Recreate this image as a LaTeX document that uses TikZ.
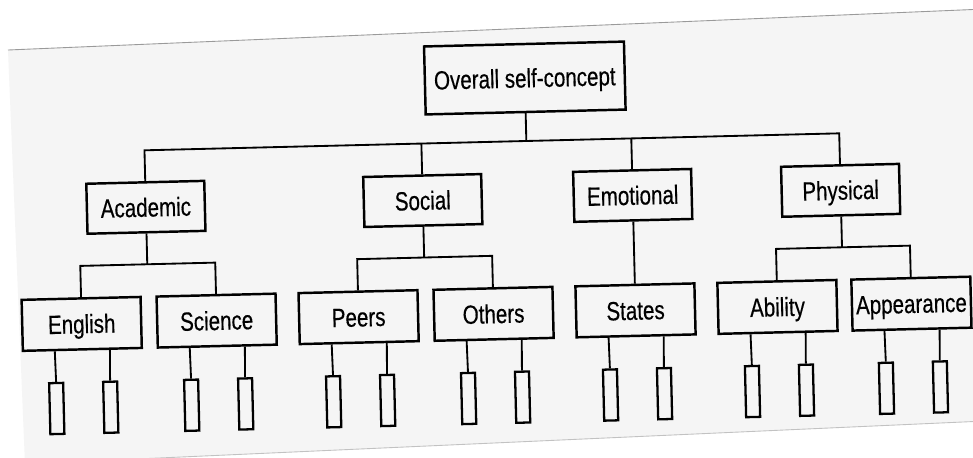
\documentclass[tikz,border=0pt]{standalone}
\usepackage{fontspec}
\setmainfont{Liberation Sans}[FakeStretch=0.78,FakeBold=0.4]
\usetikzlibrary{calc}
\definecolor{paper}{HTML}{F5F5F5}
\definecolor{paperedge}{HTML}{9A9A9A}
\begin{document}
\begin{tikzpicture}[x=0.02cm,y=-0.02cm,
  box/.style={draw, line width=1.4pt, inner sep=0pt, text height=10.7pt, text depth=0pt,
              font=\fontsize{15}{18}\selectfont, transform shape},
  rootbox/.style={box, minimum width=4.0cm, minimum height=1.36cm},
  midbox/.style={box, minimum width=2.36cm, minimum height=1.0cm},
  lowbox/.style={box, minimum width=2.38cm, minimum height=1.02cm},
  leafbox/.style={draw, line width=1.3pt, inner sep=0pt, minimum width=0.28cm,
                  minimum height=1.02cm, transform shape},
  link/.style={line width=1.05pt, line join=miter}]

% sheet of paper, slightly tilted
\useasboundingbox (0,0) rectangle (973,457);
\fill[white] (0,0) rectangle (973,457);
\fill[paper] (8,50) -- (985,9) -- (985,421) -- (25,464) -- cycle;
\draw[paperedge, line width=0.5pt] (8,50) -- (985,9);
\draw[paperedge!60, line width=0.5pt] (25,464) -- (985,421);

\begin{scope}[rotate around={1.4:(486,250)}]
  % hierarchy boxes
  \node[rootbox] (root) at (529,79) {Overall self-concept};

  \node[midbox] (acad) at (147,199) {Academic};
  \node[midbox] (soc)  at (424,199) {Social};
  \node[midbox] (emo)  at (634,199) {Emotional};
  \node[midbox] (phys) at (842,199) {Physical};

  \node[lowbox] (eng)  at (80,314)  {English};
  \node[lowbox] (sci)  at (215,314) {Science};
  \node[lowbox] (peer) at (357,314) {Peers};
  \node[lowbox] (oth)  at (492,314) {Others};
  \node[lowbox] (stat) at (634,314) {States};
  \node[lowbox] (abil) at (776,314) {Ability};
  \node[lowbox] (appe) at (910,314) {Appearance};

  % junction points of the branching lines
  \coordinate (j0) at (529,142);
  \coordinate (ja) at (147,142);
  \coordinate (js) at (424,142);
  \coordinate (je) at (634,142);
  \coordinate (jp) at (842,142);

  \coordinate (ka)  at (147,256);
  \coordinate (kal) at (80,256);
  \coordinate (kar) at (215,256);
  \coordinate (ks)  at (424,256);
  \coordinate (ksl) at (357,256);
  \coordinate (ksr) at (492,256);
  \coordinate (kp)  at (842,256);
  \coordinate (kpl) at (776,256);
  \coordinate (kpr) at (910,256);

  % first level
  \draw[link] (root.south) -- (j0);
  \draw[link] (acad.north) -- (ja) -- (jp) -- (phys.north);
  \draw[link] (js) -- (soc.north);
  \draw[link] (je) -- (emo.north);

  % second level
  \draw[link] (acad.south) -- (ka);
  \draw[link] (eng.north) -- (kal) -- (kar) -- (sci.north);
  \draw[link] (soc.south) -- (ks);
  \draw[link] (peer.north) -- (ksl) -- (ksr) -- (oth.north);
  \draw[link] (emo.south) -- (stat.north);
  \draw[link] (phys.south) -- (kp);
  \draw[link] (abil.north) -- (kpl) -- (kpr) -- (appe.north);

  % item boxes below each facet
  \foreach \n/\x in {eng/80, sci/215, peer/357, oth/492, stat/634, abil/776, appe/910} {
    \node[leafbox] (\n-l) at (\x-27,398) {};
    \node[leafbox] (\n-r) at (\x+27,398) {};
    \draw[link] ($(\n.south west)!0.273!(\n.south east)$) -- (\n-l.north);
    \draw[link] ($(\n.south west)!0.727!(\n.south east)$) -- (\n-r.north);
  }
\end{scope}
\end{tikzpicture}
\end{document}
